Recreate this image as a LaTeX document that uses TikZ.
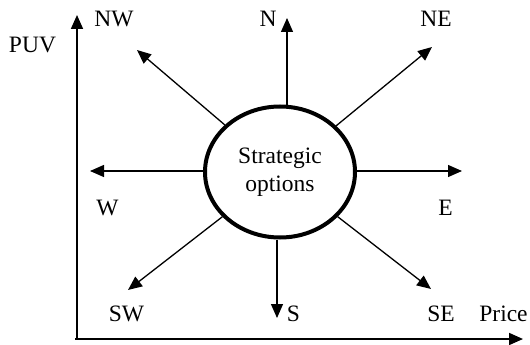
\documentclass[tikz,border=0pt]{standalone}
\usepackage{fontspec}
\setmainfont{Liberation Serif}
\usetikzlibrary{arrows.meta,shapes.geometric}
\begin{document}
\begin{tikzpicture}[x=1pt,y=-1pt,
  lbl/.style={anchor=base,inner sep=0pt,font=\fontsize{23.5}{28}\selectfont},
  arr/.style={line width=1.3pt,-{Triangle[length=14pt,width=12pt]}},
  axis/.style={line width=1.7pt,-{Triangle[length=14pt,width=12pt]}},
  oval/.style={draw,ellipse,line width=4pt,minimum width=150pt,minimum height=131pt,inner sep=0pt,align=center,font=\fontsize{23.5}{28}\selectfont}]
\useasboundingbox (0,0) rectangle (530,345);
% axes
\coordinate (O) at (77,339);
\coordinate (Ytip) at (77,15);
\coordinate (Xs) at (75,339);
\coordinate (Xtip) at (523,339);
\draw[axis] (O) -- (Ytip);
\draw[axis] (Xs) -- (Xtip);
% central oval
\node[oval] (so) at (280,172) {Strategic\\options};
% tips
\coordinate (tN) at (287,18);
\coordinate (tS) at (277,318);
\coordinate (tNE) at (432,47);
\coordinate (tNW) at (137,50);
\coordinate (tW) at (90,171);
\coordinate (tE) at (462,171);
\coordinate (tSW) at (128,290);
\coordinate (tSE) at (431,289);
\draw[arr] (so.north -| tN) -- (tN);
\draw[arr] (so.south -| tS) -- (tS);
\draw[arr] (so) -- (tNE);
\draw[arr] (so) -- (tNW);
\draw[arr] (so.west |- tW) -- (tW);
\draw[arr] (so.east |- tE) -- (tE);
\draw[arr] (so) -- (tSW);
\draw[arr] (so) -- (tSE);
% labels
\node[lbl] (lNW) at (114,27) {NW};
\node[lbl] (lN) at (268,27) {N};
\node[lbl] (lNE) at (436,27) {NE};
\node[lbl] (lPUV) at (32.5,53) {PUV};
\node[lbl] (lW) at (107.5,215) {W};
\node[lbl] (lE) at (445.5,215) {E};
\node[lbl] (lSW) at (126.5,321) {SW};
\node[lbl] (lS) at (293.5,321) {S};
\node[lbl] (lSE) at (441,321) {SE};
\node[lbl] (lPrice) at (503.5,321) {Price};
\end{tikzpicture}
\end{document}
